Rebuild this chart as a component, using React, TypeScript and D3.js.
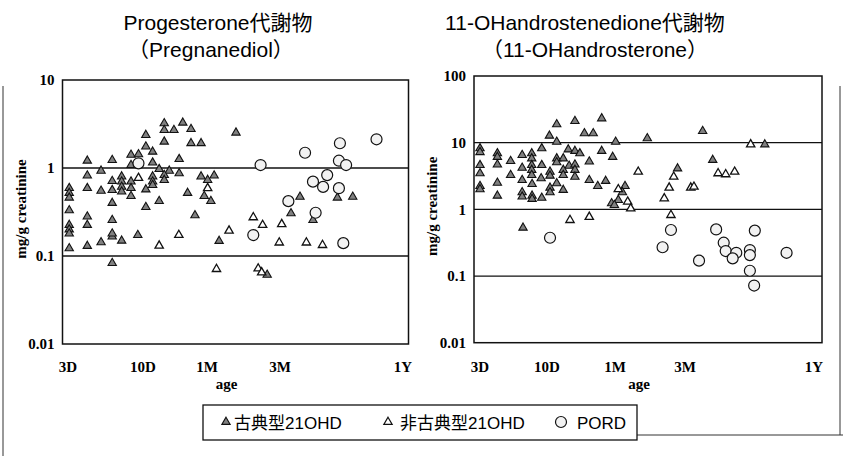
import * as d3 from 'd3';

// age axis: days, labels as printed
const AGE_TICKS = [3, 10, 30, 90, 365];
const AGE_LABELS = ['3D', '10D', '1M', '3M', '1Y'];

// [age in days, mg/g creatinine]
const PREG_CLASSIC: [number, number][] = [
  [14.4, 3.22], [19.8, 3.27], [14.4, 2.7], [17.0, 2.7], [22.8, 2.77], [10.5, 2.37], [14.4, 1.99],
  [22.8, 1.91], [27.1, 1.91], [10.5, 1.75], [11.8, 1.53], [8.25, 1.41], [9.3, 1.43], [18.6, 1.26],
  [4.09, 1.21], [6.1, 1.23], [11.8, 1.15], [8.25, 1.08], [13.2, 0.97], [5.1, 0.93], [15.7, 0.93],
  [18.6, 0.87], [4.09, 0.82], [27.1, 0.8], [30.3, 0.73], [33.4, 0.82], [7.1, 0.8], [7.1, 0.7],
  [7.1, 0.61], [7.1, 0.54], [6.1, 0.71], [8.25, 0.7], [11.8, 0.8], [11.8, 0.7], [11.8, 0.64],
  [14.4, 0.83], [14.4, 0.73], [3.06, 0.59], [3.06, 0.52], [3.06, 0.46], [4.09, 0.59], [5.1, 0.55],
  [6.1, 0.56], [8.25, 0.59], [8.25, 0.48], [10.5, 0.57], [21.5, 0.52], [28.6, 0.48], [31.8, 0.42],
  [6.1, 0.4], [13.2, 0.42], [10.5, 0.36], [3.06, 0.33], [24.4, 0.29], [4.09, 0.28], [4.09, 0.225],
  [6.1, 0.256], [3.06, 0.225], [3.06, 0.2], [3.06, 0.18], [9.2, 0.173], [6.1, 0.166], [6.1, 0.18],
  [7.1, 0.149], [5.1, 0.143], [36.0, 0.148], [4.09, 0.13], [3.06, 0.122], [6.1, 0.083], [46.4, 2.52],
  [113, 0.47], [102, 0.305], [173, 0.46], [206, 0.47], [131, 0.256], [74.2, 0.061],
];
const PREG_NONCLASSIC: [number, number][] = [
  [9.3, 0.77], [30.3, 0.59], [18.5, 0.173], [41.8, 0.194], [13.2, 0.131], [34.6, 0.071], [60.2, 0.275],
  [69.3, 0.225], [91.8, 0.23], [89, 0.142], [121.5, 0.142], [146, 0.133], [64.8, 0.072], [68.3, 0.065],
];
const PREG_PORD: [number, number][] = [
  [9.3, 1.13], [270, 2.12], [178, 1.91], [119.7, 1.49], [67.2, 1.08], [176, 1.21], [191, 1.08],
  [154, 0.83], [131, 0.7], [147, 0.61], [176, 0.59], [99, 0.42], [135, 0.31], [60.2, 0.173], [185, 0.14],
];

const ANDRO_CLASSIC: [number, number][] = [
  [11.7, 18.8], [15.7, 21.1], [24.2, 23.1], [10.4, 12.7], [18.3, 13.8], [21.1, 13.8], [11.7, 10.3],
  [30.3, 10.3], [3.0, 8.2], [3.0, 7.2], [4.1, 6.9], [4.1, 6.1], [9.1, 8.2], [6.4, 6.5], [7.6, 6.9],
  [7.6, 5.8], [14.1, 7.9], [15.7, 7.5], [17.0, 6.9], [24.2, 7.5], [28.9, 6.1], [11.7, 5.8], [13.0, 5.8],
  [11.7, 5.07], [5.2, 5.3], [3.0, 4.6], [3.0, 3.47], [4.1, 4.7], [9.1, 4.6], [7.6, 4.6], [7.6, 3.9],
  [7.6, 3.27], [6.4, 4.2], [14.3, 4.5], [15.7, 4.7], [15.7, 3.9], [15.7, 3.08], [13.0, 3.9], [13.0, 3.27],
  [10.5, 3.66], [10.5, 3.19], [19.8, 5.2], [5.2, 3.27], [6.4, 2.75], [9.0, 2.92], [19.8, 2.75],
  [25.8, 2.66], [3.0, 2.23], [3.0, 2.0], [4.1, 2.5], [7.65, 2.39], [11.7, 2.45], [10.5, 2.11],
  [10.5, 1.8], [13.0, 1.95], [22.7, 2.23], [35.1, 2.23], [6.4, 1.8], [6.4, 1.55], [7.65, 1.6],
  [7.65, 1.43], [9.1, 1.49], [4.1, 1.6], [33.7, 1.8], [31.6, 1.38], [28.4, 1.23], [29.7, 1.16],
  [6.5, 0.53], [109, 14.9], [49.8, 11.6], [214, 9.4], [121.6, 5.5], [80.1, 4.1],
];
const ANDRO_NONCLASSIC: [number, number][] = [
  [43.2, 3.66], [31.6, 2.0], [36.6, 1.3], [38.4, 1.03], [14.5, 0.69], [19.8, 0.77], [183.6, 9.4],
  [128.9, 3.47], [140, 3.35], [154.3, 3.66], [75.4, 3.08], [70.2, 2.11], [95.8, 2.11], [99.2, 2.18],
  [65, 1.46], [72.2, 0.82],
];
const ANDRO_PORD: [number, number][] = [
  [10.5, 0.375], [72.2, 0.49], [126.2, 0.5], [192, 0.48], [63.3, 0.27], [137, 0.316], [140, 0.237],
  [157, 0.223], [151, 0.184], [182, 0.245], [182, 0.206], [271, 0.223], [104.8, 0.17], [182, 0.12],
  [190.6, 0.072],
];

const LEFT_Y_TICKS = [10, 1, 0.1, 0.01];
const LEFT_GRID = [1, 0.1];
const RIGHT_Y_TICKS = [100, 10, 1, 0.1, 0.01];
const RIGHT_GRID = [10, 1, 0.1];

const LEGEND = ['古典型21OHD', '非古典型21OHD', 'PORD'];

const SERIF = '"Liberation Serif", "Times New Roman", serif';
const SANS = '"Liberation Sans", Arial, "Noto Sans CJK JP", sans-serif';
const CLASSIC_FILL = '#808080';

const tri = d3.symbol().type(d3.symbolTriangle).size(30)() as string;

type Pt = [number, number];

function Panel(props: {
  left: number; right: number; top: number; bottom: number;
  tickPos: number[]; yMax: number; yTicks: number[]; grid: number[];
  classic: Pt[]; nonClassic: Pt[]; pord: Pt[];
}) {
  const { left, right, top, bottom, tickPos, yMax, yTicks, grid } = props;
  const x = d3.scaleLog().domain(AGE_TICKS).range(tickPos);
  const y = d3.scaleLog().domain([0.01, yMax]).range([bottom, top]);
  const midX = (left + right) / 2;
  return (
    <g>
      {grid.map((g) => (
        <line key={g} x1={left} x2={right} y1={y(g)} y2={y(g)} stroke="#111" strokeWidth={1.3} />
      ))}
      <rect x={left} y={top} width={right - left} height={bottom - top} fill="none" stroke="#111" strokeWidth={1.5} />
      {yTicks.map((t) => (
        <text key={t} x={left - 8} y={y(t)} dy="0.35em" textAnchor="end" fontFamily={SERIF}
          fontSize={15} fontWeight="bold">
          {t}
        </text>
      ))}
      {AGE_TICKS.map((t, i) => (
        <text key={t} x={x(t)} y={372} textAnchor="middle" fontFamily={SERIF} fontSize={15} fontWeight="bold">
          {AGE_LABELS[i]}
        </text>
      ))}
      <text x={midX - 9} y={389} textAnchor="middle" fontFamily={SERIF} fontSize={15} fontWeight="bold">age</text>
      <text
        transform={`translate(${left - 37},${(top + bottom) / 2 - 3}) rotate(-90)`}
        textAnchor="middle" fontFamily={SERIF} fontSize={15} fontWeight="bold"
      >
        mg/g creatinine
      </text>
      {props.classic.map((d, i) => (
        <path key={'c' + i} d={tri} transform={`translate(${x(d[0])},${y(d[1])})`}
          fill={CLASSIC_FILL} stroke="#111" strokeWidth={1.1} />
      ))}
      {props.nonClassic.map((d, i) => (
        <path key={'n' + i} d={tri} transform={`translate(${x(d[0])},${y(d[1])})`}
          fill="#fff" stroke="#111" strokeWidth={1.3} />
      ))}
      {props.pord.map((d, i) => (
        <circle key={'p' + i} cx={x(d[0])} cy={y(d[1])} r={5.5} fill="#f2f2f2" stroke="#111" strokeWidth={1.2} />
      ))}
    </g>
  );
}

export default function App() {
  return (
    <svg width={843} height={456} style={{ position: 'absolute', left: 0, top: 0, background: '#fff' }}>
      {/* outer frame pieces */}
      <line x1={3} x2={3} y1={86} y2={456} stroke="#333" strokeWidth={1} />
      <line x1={840} x2={840} y1={86} y2={435} stroke="#333" strokeWidth={1} />
      <line x1={530} x2={843} y1={435} y2={435} stroke="#333" strokeWidth={1} />

      <text x={218} y={30} textAnchor="middle" fontFamily={SANS} fontSize={21}>Progesterone代謝物</text>
      <text x={211} y={57} textAnchor="middle" fontFamily={SANS} fontSize={21}>（Pregnanediol）</text>
      <text x={585} y={30} textAnchor="middle" fontFamily={SANS} fontSize={21}>11-OHandrostenedione代謝物</text>
      <text x={595} y={57} textAnchor="middle" fontFamily={SANS} fontSize={21}>（11-OHandrosterone）</text>

      <Panel left={62.5} right={408.5} top={80} bottom={344} tickPos={[68, 143, 207, 280, 403]}
        yMax={10} yTicks={LEFT_Y_TICKS} grid={LEFT_GRID}
        classic={PREG_CLASSIC} nonClassic={PREG_NONCLASSIC} pord={PREG_PORD} />
      <Panel left={474} right={822} top={76} bottom={342.7} tickPos={[480, 547, 615, 685, 814]}
        yMax={100} yTicks={RIGHT_Y_TICKS} grid={RIGHT_GRID}
        classic={ANDRO_CLASSIC} nonClassic={ANDRO_NONCLASSIC} pord={ANDRO_PORD} />

      <g>
        <rect x={203} y={405} width={434} height={35} fill="#fff" stroke="#111" strokeWidth={1.3} />
        <path d={tri} transform="translate(226,422)" fill={CLASSIC_FILL} stroke="#111" strokeWidth={1.1} />
        <text x={234} y={429} fontFamily={SANS} fontSize={17}>{LEGEND[0]}</text>
        <path d={tri} transform="translate(388,422)" fill="#fff" stroke="#111" strokeWidth={1.2} />
        <text x={400} y={429} fontFamily={SANS} fontSize={17}>{LEGEND[1]}</text>
        <circle cx={561} cy={422} r={5.5} fill="#f2f2f2" stroke="#111" strokeWidth={1.2} />
        <text x={577} y={429} fontFamily={SANS} fontSize={17}>{LEGEND[2]}</text>
      </g>
    </svg>
  );
}
